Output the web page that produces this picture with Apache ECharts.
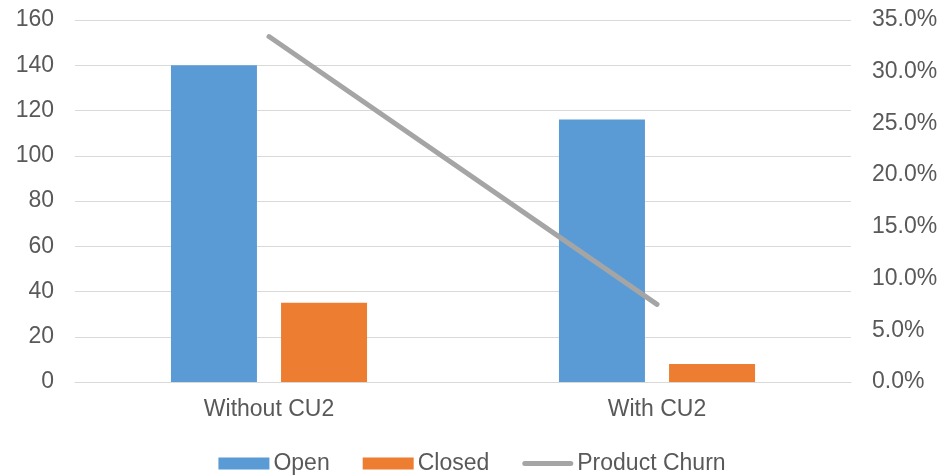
<!DOCTYPE html>
<html><head><meta charset="utf-8">
<script src="https://cdn.jsdelivr.net/npm/echarts@6/dist/echarts.min.js"></script>
<style>html,body{margin:0;padding:0;background:#fff}#c{width:944px;height:475px}</style>
</head><body><div id="c"></div>
<script>
const categories = ['Without CU2', 'With CU2'];
const openValues = [140, 116];
const closedValues = [35, 8];
const churnValues = [33.4, 7.5];
const leftTicks = [0, 20, 40, 60, 80, 100, 120, 140, 160];
const rightTicks = [0, 5, 10, 15, 20, 25, 30, 35];

const font = 'Liberation Sans, Arial, sans-serif';
const fs = 23;
const chart = echarts.init(document.getElementById('c'));
chart.setOption({
  animation: false,
  textStyle: { fontFamily: font },
  grid: { left: 75, right: 93, top: 20, bottom: 93, containLabel: false },
  legend: {
    top: 447, left: 'center', itemGap: 33, itemWidth: 51, itemHeight: 12,
    textStyle: { fontSize: fs, color: '#595959', fontFamily: font, padding: [0, 0, 0, -1] },
    data: [
      { name: 'Open', icon: 'rect' },
      { name: 'Closed', icon: 'rect' },
      { name: 'Product Churn', icon: 'path://M2.5,0 H48.5 A2.5,2.5 0 0 1 48.5,5 H2.5 A2.5,2.5 0 0 1 2.5,0 Z' }
    ]
  },
  xAxis: {
    type: 'category', data: categories,
    axisLine: { show: true, lineStyle: { color: '#d9d9d9', width: 1 } },
    axisTick: { show: false },
    axisLabel: { fontSize: fs, color: '#595959', margin: 16, fontFamily: font }
  },
  yAxis: [
    {
      type: 'value', min: leftTicks[0], max: leftTicks[leftTicks.length - 1], interval: 20,
      axisLine: { show: false }, axisTick: { show: false },
      splitLine: { lineStyle: { color: '#d9d9d9', width: 1 } },
      axisLabel: { fontSize: fs, color: '#595959', margin: 21, fontFamily: font }
    },
    {
      type: 'value', min: rightTicks[0], max: rightTicks[rightTicks.length - 1], interval: 5,
      axisLine: { show: false }, axisTick: { show: false },
      splitLine: { show: false },
      axisLabel: { fontSize: fs, color: '#595959', margin: 21, fontFamily: font,
        formatter: v => v.toFixed(1) + '%' }
    }
  ],
  series: [
    { name: 'Open', type: 'bar', data: openValues, barWidth: 86, barGap: '28%',
      itemStyle: { color: '#5b9bd5' } },
    { name: 'Closed', type: 'bar', data: closedValues, barWidth: 86,
      itemStyle: { color: '#ed7d31' } },
    { name: 'Product Churn', type: 'line', yAxisIndex: 1, data: churnValues,
      symbol: 'none', lineStyle: { color: '#a5a5a5', width: 5, cap: 'round' },
      itemStyle: { color: '#a5a5a5' } }
  ]
});
</script></body></html>
